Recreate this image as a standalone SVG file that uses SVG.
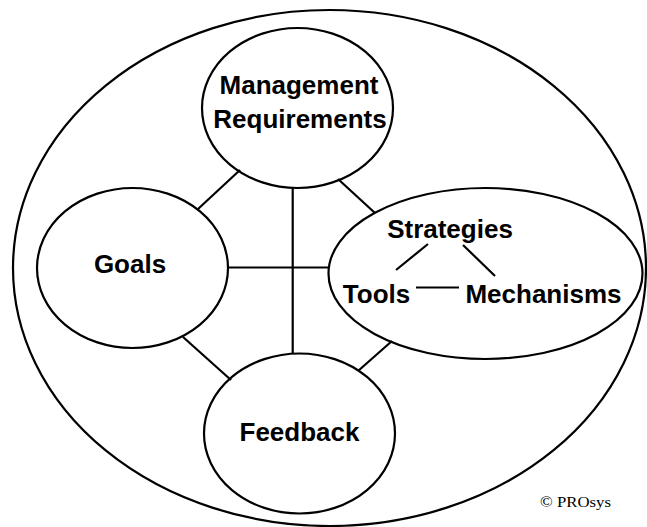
<svg xmlns="http://www.w3.org/2000/svg" width="647" height="527" viewBox="0 0 647 527">
  <style>
    .shape { fill: none; stroke: #000; stroke-width: 2.2; }
    .fillshape { fill: #fff; stroke: #000; stroke-width: 2.2; }
    .link { stroke: #000; stroke-width: 2.2; fill: none; }
    .label { font-family: "Liberation Sans", Arial, sans-serif; font-weight: bold; font-size: 26px; fill: #000; text-anchor: middle; }
    .credit { font-family: "Liberation Serif", "Times New Roman", serif; font-size: 15px; fill: #000; }
  </style>
  <rect width="647" height="527" fill="#fff"/>

  <!-- outer boundary -->
  <g id="boundary">
    <ellipse class="shape" cx="329.5" cy="268" rx="316.5" ry="258"/>
  </g>

  <!-- connectors -->
  <g id="connectors">
    <line class="link" x1="292.7" y1="188" x2="292.7" y2="354"/>
    <line class="link" x1="228" y1="267.5" x2="328.5" y2="267.5"/>
    <line class="link" x1="240" y1="170" x2="198" y2="209"/>
    <line class="link" x1="338" y1="179" x2="375" y2="213"/>
    <line class="link" x1="183" y1="337" x2="231" y2="380"/>
    <line class="link" x1="358" y1="371" x2="392" y2="341"/>
  </g>

  <g id="management">
    <ellipse class="shape" cx="297.5" cy="108" rx="95.5" ry="80"/>
    <text class="label" x="299" y="94">Management</text>
    <text class="label" x="300" y="128">Requirements</text>
  </g>

  <g id="goals">
    <ellipse class="shape" cx="132.5" cy="268" rx="95.5" ry="80"/>
    <text class="label" x="130" y="273">Goals</text>
  </g>

  <g id="feedback">
    <ellipse class="shape" cx="299.5" cy="433.5" rx="95.5" ry="80"/>
    <text class="label" x="299.5" y="441">Feedback</text>
  </g>

  <g id="strategies">
    <ellipse class="shape" cx="485.5" cy="273.5" rx="157" ry="85.5"/>
    <text class="label" x="450" y="238">Strategies</text>
    <text class="label" x="376.5" y="303">Tools</text>
    <text class="label" x="543.5" y="303">Mechanisms</text>
    <g id="strategies-links">
      <line class="link" x1="428" y1="244" x2="396" y2="270"/>
      <line class="link" x1="463" y1="245" x2="495" y2="276"/>
      <line class="link" x1="416" y1="287.5" x2="459" y2="287.5"/>
    </g>
  </g>

  <text class="credit" x="540" y="507" textLength="71" lengthAdjust="spacingAndGlyphs">© PROsys</text>
</svg>
